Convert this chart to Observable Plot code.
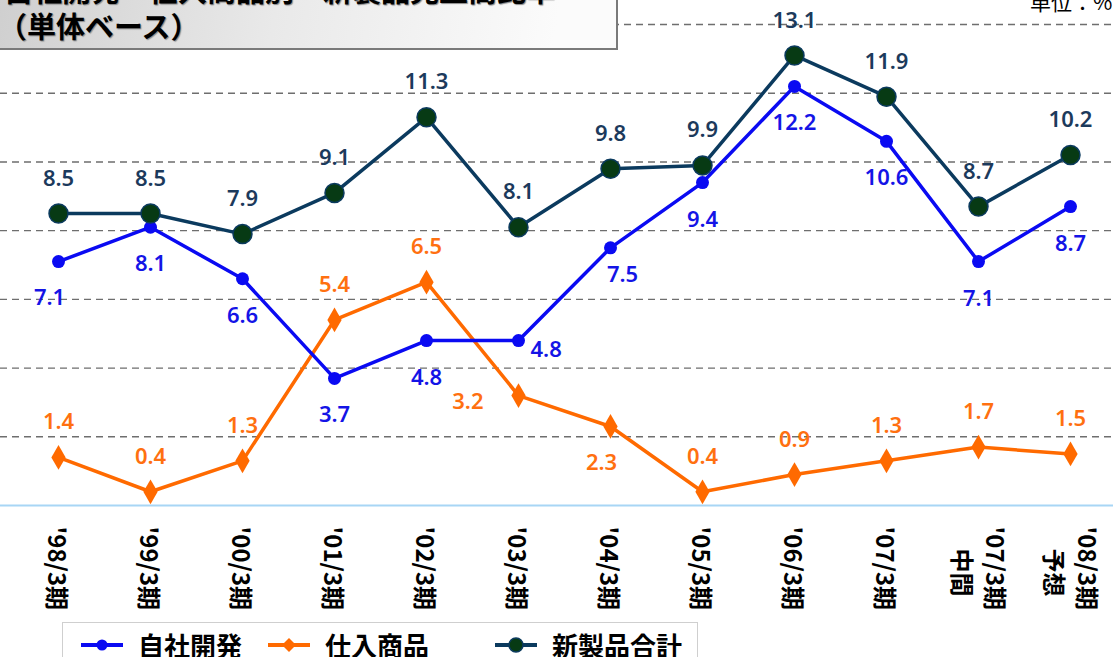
<!DOCTYPE html>
<html><head><meta charset="utf-8">
<script src="https://cdn.jsdelivr.net/npm/d3@7"></script>
<script src="https://cdn.jsdelivr.net/npm/@observablehq/plot@0.6"></script>
<style>
body{margin:0;background:#fff;}
#wrap{position:relative;width:1113px;height:657px;overflow:hidden;font-family:"Noto Sans CJK JP","Noto Sans",sans-serif;}
#chart{position:absolute;left:0;top:0;}
#title{position:absolute;left:-2px;top:-42px;width:620px;height:92px;border:2px solid #7a7a7a;
  background:linear-gradient(100deg,#cfcfcf 0%,#e9e9e9 45%,#fbfbfb 90%);box-sizing:border-box;overflow:hidden;
  font-weight:bold;color:#000;font-size:29px;line-height:34px;}
#title .l1{position:absolute;left:4px;top:12px;white-space:nowrap;text-shadow:1px 1px 1px #888;}
#title .l2{position:absolute;left:-2px;top:48px;white-space:nowrap;text-shadow:1px 1px 1px #888;}
#unit{position:absolute;left:1030px;top:-14px;font-size:21px;color:#000;white-space:nowrap;}
#legend{position:absolute;left:62px;top:622px;width:636px;height:50px;border:1px solid #cfcfcf;box-sizing:border-box;background:#fff;}
.item{position:absolute;top:6px;height:32px;line-height:32px;display:flex;align-items:center;font-weight:bold;font-size:26px;color:#000;white-space:nowrap;}
.item svg{margin-right:15px;}
</style></head><body>
<div id="wrap">
  <div id="chart"></div>
  <div id="title"><div class="l1">自社開発・仕入商品別　新製品売上高比率</div><div class="l2">（単体ベース）</div></div>
  <div id="unit">単位：%</div>
  <div id="legend"></div>
</div>
<script>
// ---- data ----
const periods = ["'98/3期","'99/3期","'00/3期","'01/3期","'02/3期","'03/3期","'04/3期","'05/3期","'06/3期","'07/3期","'07/3期\n中間","'08/3期\n予想"];
const jisha  = [7.1, 8.1, 6.6, 3.7, 4.8, 4.8, 7.5, 9.4, 12.2, 10.6, 7.1, 8.7];   // 自社開発
const shiire = [1.4, 0.4, 1.3, 5.4, 6.5, 3.2, 2.3, 0.4, 0.9, 1.3, 1.7, 1.5];    // 仕入商品
const total  = [8.5, 8.5, 7.9, 9.1, 11.3, 8.1, 9.8, 9.9, 13.1, 11.9, 8.7, 10.2]; // 新製品合計
const seriesNames = ["自社開発","仕入商品","新製品合計"];
const gridValues = [2, 4, 6, 8, 10, 12, 14];

// label placement keywords (not coordinates)
const jishaPlace  = ["belowleft","below","below","below","below","right","belowright","below","below","below","below","below"];
const shiirePlace = ["above","above","above","above","above","left","belowleft","above","above","above","above","above"];
const totalPlace  = ["above","above","above","above","above","above","above","above","above","above","above","above"];

const C = {jisha:"#0a0af2", shiire:"#ff6a00", total:"#0b3a5e", totalFill:"#073a14",
           jishaText:"#1414e6", shiireText:"#ff7010", totalText:"#1c3a5c"};

const rows = periods.map((p,i)=>{
  const parts = p.split("\n");
  return {period:p, line1:parts[0], line2:parts[1]||"", two:parts.length>1,
    jisha:jisha[i], shiire:shiire[i], total:total[i],
    jp:jishaPlace[i], sp:shiirePlace[i], tp:totalPlace[i], base:0};
});

const offsets = {
  above:{dx:0, dy:-35, textAnchor:"middle"},
  below:{dx:0, dy:37, textAnchor:"middle"},
  belowleft:{dx:-9, dy:36, textAnchor:"middle"},
  belowright:{dx:12, dy:27, textAnchor:"middle"},
  right:{dx:12, dy:9, textAnchor:"start"},
  left:{dx:-35, dy:6, textAnchor:"end"}
};

function labels(key, placeKey, color){
  return Object.entries(offsets).map(([k,o]) =>
    Plot.text(rows.filter(r=>r[placeKey]===k), {x:"period", y:key, text:d=>d[key].toFixed(1),
      dx:o.dx, dy:o.dy, textAnchor:o.textAnchor, fill:color, fontSize:22, fontWeight:600,
      fontFamily:"'Noto Sans','Open Sans',sans-serif"}));
}

const tickFont = {fontSize:24, fontWeight:"bold", fill:"#000", fontFamily:"'Noto Sans CJK JP',sans-serif", rotate:90, lineAnchor:"middle"};

const plot = Plot.plot({
  width:1113, height:620,
  marginTop:0, marginBottom:115, marginLeft:55, marginRight:41,
  style:{background:"transparent", overflow:"visible"},
  x:{type:"point", domain:periods, padding:0, axis:null},
  y:{domain:[0,14.7], axis:null},
  marks:[
    Plot.ruleY(gridValues, {stroke:"#6e6e6e", strokeWidth:1.4, strokeDasharray:"7,5", insetLeft:-55, insetRight:-41}),
    Plot.ruleY([0], {stroke:"#a8d6f5", strokeWidth:2, insetLeft:-55, insetRight:-41}),
    Plot.line(rows, {x:"period", y:"shiire", stroke:C.shiire, strokeWidth:3.5}),
    Plot.dot(rows, {x:"period", y:"shiire", symbol:"diamond", r:7.5, fill:C.shiire}),
    Plot.line(rows, {x:"period", y:"jisha", stroke:C.jisha, strokeWidth:3.5}),
    Plot.dot(rows, {x:"period", y:"jisha", r:6.5, fill:C.jisha}),
    Plot.line(rows, {x:"period", y:"total", stroke:C.total, strokeWidth:3.5}),
    Plot.dot(rows, {x:"period", y:"total", r:9.5, fill:C.totalFill, stroke:C.total, strokeWidth:1.5}),
    ...labels("jisha","jp",C.jishaText),
    ...labels("shiire","sp",C.shiireText),
    ...labels("total","tp",C.totalText),
    // x tick labels (rotated), first line and optional second line
    Plot.text(rows.filter(r=>!r.two), {x:"period", y:"base", text:"line1", textAnchor:"start", dy:21, dx:-3, ...tickFont}),
    Plot.text(rows.filter(r=>r.two), {x:"period", y:"base", text:"line1", textAnchor:"start", dy:21, dx:15, ...tickFont}),
    Plot.text(rows.filter(r=>r.two), {x:"period", y:"base", text:"line2", textAnchor:"middle", dy:67, dx:-18, ...tickFont})
  ]
});
document.getElementById("chart").appendChild(plot);

// legend
const legend = document.getElementById("legend");
const legendDefs = [
  {name:seriesNames[0], color:C.jisha, marker:"circle", left:18},
  {name:seriesNames[1], color:C.shiire, marker:"diamond", left:205},
  {name:seriesNames[2], color:C.total, marker:"big", left:432}
];
legendDefs.forEach(d=>{
  const el = document.createElement("div");
  el.className="item"; el.style.left=d.left+"px";
  let m;
  if(d.marker==="circle") m=`<circle cx="21" cy="11" r="5.5" fill="${d.color}"/>`;
  else if(d.marker==="diamond") m=`<path d="M21,4 L28,11 L21,18 L14,11Z" fill="${d.color}"/>`;
  else m=`<circle cx="21" cy="11" r="7" fill="${C.totalFill}" stroke="${d.color}" stroke-width="1.5"/>`;
  el.innerHTML = `<svg width="42" height="22"><line x1="0" y1="11" x2="42" y2="11" stroke="${d.color}" stroke-width="4"/>${m}</svg><span>${d.name}</span>`;
  legend.appendChild(el);
});
</script>
</body></html>
